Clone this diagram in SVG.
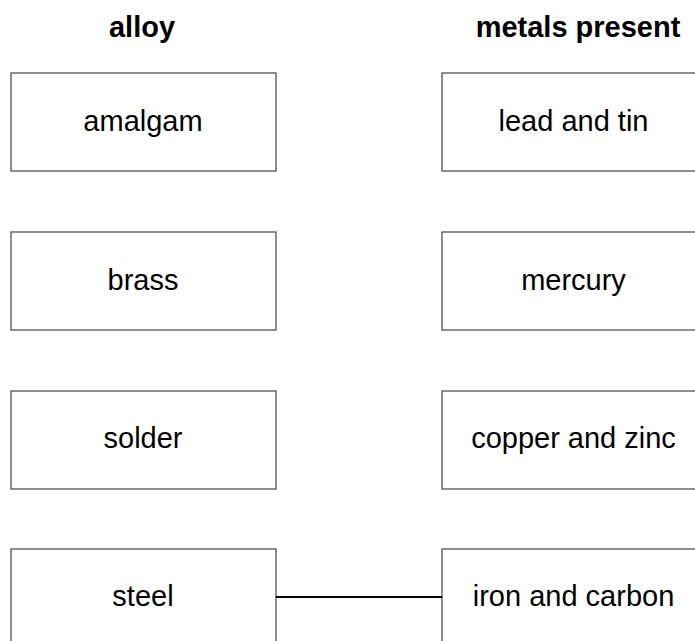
<svg xmlns="http://www.w3.org/2000/svg" width="695" height="641" viewBox="0 0 695 641">
<style>
.box{fill:#fff;stroke:#444;stroke-width:1.2}
.t{font-family:"Liberation Sans",Arial,sans-serif;font-size:29px;text-anchor:middle;fill:#000}
.h{font-family:"Liberation Sans",Arial,sans-serif;font-size:29px;font-weight:bold;text-anchor:middle;fill:#000}
.c{stroke:#000;stroke-width:2.2;fill:none}
</style>
<rect width="695" height="641" fill="#fff"/>
<g id="headers">
<text class="h" x="142" y="37">alloy</text>
<text class="h" x="578" y="37">metals present</text>
</g>
<g id="amalgam"><rect class="box" x="11" y="73" width="265" height="98"/><text class="t" x="143" y="131">amalgam</text></g>
<g id="brass"><rect class="box" x="11" y="232" width="265" height="98"/><text class="t" x="143" y="290">brass</text></g>
<g id="solder"><rect class="box" x="11" y="391" width="265" height="98"/><text class="t" x="143" y="448">solder</text></g>
<g id="steel"><rect class="box" x="11" y="549" width="265" height="98"/><text class="t" x="143" y="606">steel</text></g>
<g id="lead"><rect class="box" x="442" y="73" width="265" height="98"/><text class="t" x="573.5" y="131">lead and tin</text></g>
<g id="mercury"><rect class="box" x="442" y="232" width="265" height="98"/><text class="t" x="573.5" y="290">mercury</text></g>
<g id="copper"><rect class="box" x="442" y="391" width="265" height="98"/><text class="t" x="573.5" y="448">copper and zinc</text></g>
<g id="iron"><rect class="box" x="442" y="549" width="265" height="98"/><text class="t" x="573.5" y="606">iron and carbon</text></g>
<g id="connectors"><line class="c" x1="276" y1="597" x2="442" y2="597"/></g>
</svg>
